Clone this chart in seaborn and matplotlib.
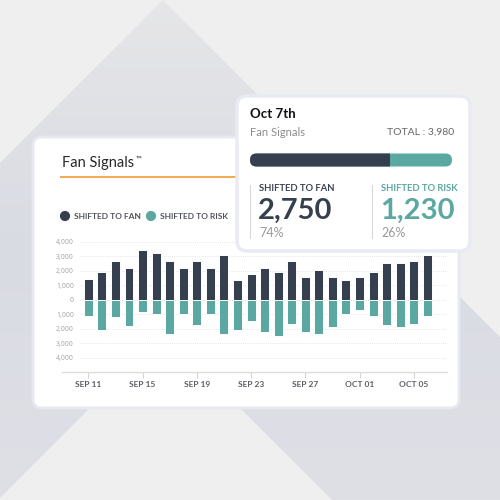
import numpy as np
import pandas as pd
import seaborn as sns
import matplotlib.pyplot as plt
from matplotlib.patches import FancyBboxPatch, Polygon, Rectangle
from matplotlib.colors import LinearSegmentedColormap

# data
days = ["Sep 11", "Sep 12", "Sep 13", "Sep 14", "Sep 15", "Sep 16", "Sep 17", "Sep 18", "Sep 19",
        "Sep 20", "Sep 21", "Sep 22", "Sep 23", "Sep 24", "Sep 25", "Sep 26", "Sep 27", "Sep 28",
        "Sep 29", "Sep 30", "Oct 01", "Oct 02", "Oct 03", "Oct 04", "Oct 05", "Oct 06"]
fan = [1450, 1920, 2700, 2190, 3460, 3230, 2700, 2190, 2700, 2190, 3070, 1360, 1750,
       2190, 1920, 2700, 1550, 2080, 1550, 1360, 1550, 1920, 2520, 2520, 2700, 3090]
risk = [1100, 2080, 1200, 1850, 880, 1020, 2350, 1020, 1730, 1020, 2350, 2080, 1500,
        2260, 2520, 1660, 2260, 2350, 1920, 1020, 690, 1100, 1730, 1920, 1660, 1100]
tick_days = ["Sep 11", "Sep 15", "Sep 19", "Sep 23", "Sep 27", "Oct 01", "Oct 05"]
tick_labels = ["SEP 11", "SEP 15", "SEP 19", "SEP 23", "SEP 27", "OCT 01", "OCT 05"]
y_ticks = [4000, 3000, 2000, 1000, 0, -1000, -2000, -3000, -4000]
series_names = ["SHIFTED TO FAN", "SHIFTED TO RISK"]

# tooltip values
sel_day = "Oct 7th"
sel_fan = 2750
sel_risk = 1230
sel_total = 3980
sel_pcts = ["74%", "26%"]

fan_color = "#363f4e"
risk_color = "#5aa8a1"

df = pd.DataFrame({"day": days, "fan": fan, "risk": [-r for r in risk]})

fig = plt.figure(figsize=(5, 5), dpi=100)
plt.rcParams["font.family"] = ["Lato", "DejaVu Sans"]

# background in pixel coords
bg = fig.add_axes([0, 0, 1, 1])
bg.set_xlim(0, 500)
bg.set_ylim(500, 0)
bg.axis("off")
bg.add_patch(Rectangle((0, 0), 500, 500, color="#efeff0", zorder=0))
band = Polygon([(0, 163), (163, 0), (500, 337), (500, 500), (332, 500), (165, 333), (0, 498)],
               closed=True, fc="none", ec="none")
bg.add_patch(band)
cmap = LinearSegmentedColormap.from_list("g", ["#e6e6e8", "#d9dbe3", "#dfe0e6"])
grad = np.linspace(0, 1, 256).reshape(-1, 1)
im = bg.imshow(grad, extent=(0, 500, 500, 0), cmap=cmap, aspect="auto", zorder=1)
im.set_clip_path(band)

# main card
bg.add_patch(FancyBboxPatch((33, 137), 426, 271, boxstyle="round,pad=0,rounding_size=9",
                            fc="white", ec="#e7e9f1", lw=2, zorder=2))
t = bg.text(62, 163, "Fan Signals", fontsize=10.5, color="#2a2a2a", va="center", zorder=3)
bg.annotate("\u2122", xy=(1, 1), xycoords=t, xytext=(1, 0), textcoords="offset points",
            ha="left", va="top", fontsize=5.5, color="#2a2a2a", zorder=3)
bg.plot([61, 300], [177, 177], color="#f2a950", lw=1.4, zorder=3)

# legend
bg.scatter([65, 151], [216, 216], s=40, c=[fan_color, risk_color], zorder=3)
bg.text(74, 216.5, series_names[0], fontsize=6, fontweight="bold", color="#50555c", va="center", zorder=3)
bg.text(160, 216.5, series_names[1], fontsize=6, fontweight="bold", color="#50555c", va="center", zorder=3)

# chart
ax = fig.add_axes([62 / 500, 128 / 500, 385 / 500, 131.5 / 500], zorder=3)
ax.patch.set_alpha(0)
sns.barplot(data=df, x="day", y="fan", color=fan_color, width=0.66, saturation=1,
            edgecolor="white", linewidth=0.7, ax=ax)
sns.barplot(data=df, x="day", y="risk", color=risk_color, width=0.66, saturation=1,
            edgecolor="white", linewidth=0.7, ax=ax)
for v in y_ticks:
    ax.axhline(v, xmin=0.047, xmax=1, color="#dedede", lw=0.6, ls=(0, (1, 1.5)), zorder=0)
ax.set_xlim(-1.94, 26.45)
ax.set_ylim(-5000, 4100)
ax.set_yticks(y_ticks)
ax.set_yticklabels([f"{abs(v):,}" for v in y_ticks], family="Noto Sans")
ax.tick_params(axis="y", length=0, pad=-8.6, labelsize=5, labelcolor="#aaaaaa")
ax.set_xticks([days.index(d) for d in tick_days])
ax.set_xticklabels(tick_labels)
ax.tick_params(axis="x", length=4, width=0.8, color="#d5d5d5", pad=2.5, labelsize=6,
               labelcolor="#5a5f66")
for lab in ax.get_xticklabels():
    lab.set_fontweight("bold")
for s in ["top", "right", "left"]:
    ax.spines[s].set_visible(False)
ax.spines["bottom"].set_color("#dcdcdc")
ax.spines["bottom"].set_linewidth(1)
ax.set_xlabel("")
ax.set_ylabel("")

# tooltip card
tip = fig.add_axes([0, 0, 1, 1], zorder=5)
tip.set_xlim(0, 500)
tip.set_ylim(500, 0)
tip.axis("off")
tip.add_patch(FancyBboxPatch((237, 96), 233, 155, boxstyle="round,pad=0,rounding_size=10",
                             fc="white", ec="#e8ebf4", lw=2.5))
tip.text(250, 114, sel_day, fontsize=9.5, fontweight="bold", color="#111111", va="center")
tip.text(250, 132, "Fan Signals", fontsize=8, color="#8c8c8c", va="center")
tip.text(454, 132, f"TOTAL : {sel_total:,}", fontsize=7.5, color="#666666", va="center", ha="right")

bar_x, bar_w, bar_y, bar_h = 250, 202, 153.5, 13
tip.add_patch(FancyBboxPatch((bar_x, bar_y), bar_w, bar_h, boxstyle="round,pad=0,rounding_size=6.5",
                             fc=risk_color, ec="none"))
dark = FancyBboxPatch((bar_x, bar_y), bar_w, bar_h, boxstyle="round,pad=0,rounding_size=6.5",
                      fc=fan_color, ec="none")
tip.add_patch(dark)
clip = Rectangle((bar_x, bar_y - 1), bar_w * sel_fan / (sel_fan + sel_risk), bar_h + 2,
                 transform=tip.transData)
dark.set_clip_path(clip)

for i, (xx, val, col) in enumerate([(250, sel_fan, fan_color), (372, sel_risk, risk_color)]):
    tip.plot([xx, xx], [185, 238], color="#d9d9d9", lw=0.8)
    tip.text(xx + 9, 188.5, series_names[i], fontsize=6.8, fontweight="bold",
             color="#3d4452" if i == 0 else risk_color, va="center")
    tip.text(xx + 8, 211, f"{val:,}", fontsize=21, fontweight="bold", color=col, va="center")
    tip.text(xx + 9, 233, sel_pcts[i], fontsize=9, color="#9a9a9a", va="center")

fig.savefig("out.png", dpi=100)
